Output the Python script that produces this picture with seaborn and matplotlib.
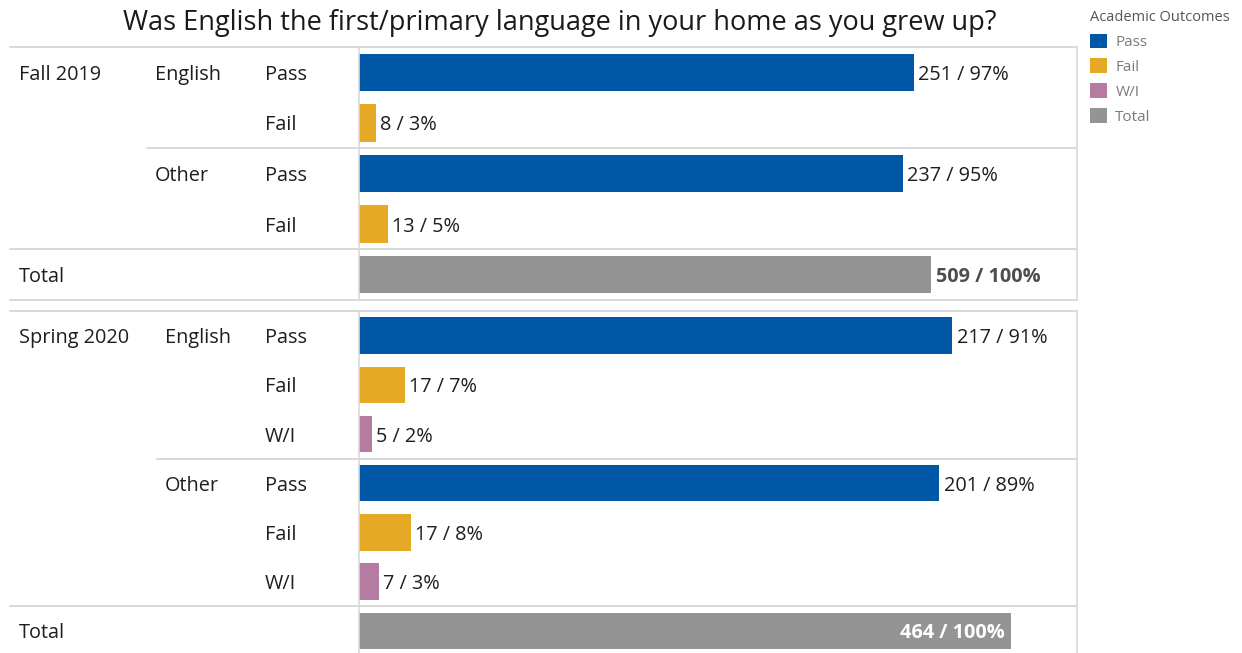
import matplotlib
matplotlib.use("Agg")
import matplotlib.pyplot as plt
import matplotlib.transforms as mtransforms
from matplotlib.patches import Patch
import pandas as pd
import seaborn as sns

# ---- data -------------------------------------------------------------
terms = ["Fall 2019", "Spring 2020"]

fall_language = ["English", "English", "Other", "Other", "Total"]
fall_outcome = ["Pass", "Fail", "Pass", "Fail", "Total"]
fall_count = [251, 8, 237, 13, 509]
fall_pct = [97, 3, 95, 5, 100]

spring_language = ["English", "English", "English", "Other", "Other", "Other", "Total"]
spring_outcome = ["Pass", "Fail", "W/I", "Pass", "Fail", "W/I", "Total"]
spring_count = [217, 17, 5, 201, 17, 7, 464]
spring_pct = [91, 7, 2, 89, 8, 3, 100]

outcomes = ["Pass", "Fail", "W/I", "Total"]
outcome_colors = ["#0057a6", "#e6a926", "#b57ba1", "#949494"]

title = "Was English the first/primary language in your home as you grew up?"
legend_title = "Academic Outcomes"

# ---- styling ----------------------------------------------------------
sns.set_theme(style="white")
plt.rcParams["font.family"] = ["Open Sans", "DejaVu Sans"]

W, H = 1242, 653
fig = plt.figure(figsize=(W / 100, H / 100), dpi=100)
palette = dict(zip(outcomes, outcome_colors))

GRID = "#d9d9d9"
TXT = "#1e1e1e"
LABEL_FS = 14.3
DROP = -2.5  # nudge text down so glyphs sit optically centred on each row

def fx(px):
    return px / W

def fy(px):
    return 1 - px / H

panels = [
    dict(term=terms[0], lang=fall_language, out=fall_outcome, cnt=fall_count,
         pct=fall_pct, top=47, bottom=300, xmax=125.5, lang_x=155),
    dict(term=terms[1], lang=spring_language, out=spring_outcome, cnt=spring_count,
         pct=spring_pct, top=311, bottom=655.5, xmax=110.1, lang_x=165),
]

ax_left, ax_right = 359, 1077

for p in panels:
    n = len(p["out"])
    df = pd.DataFrame({
        "row": [f"{l}|{o}" for l, o in zip(p["lang"], p["out"])],
        "language": p["lang"],
        "outcome": p["out"],
        "count": p["cnt"],
        "pct": p["pct"],
    })
    ax = fig.add_axes([fx(ax_left), fy(p["bottom"]), fx(ax_right - ax_left),
                       (p["bottom"] - p["top"]) / H])
    sns.barplot(data=df, y="row", x="pct", hue="outcome", palette=palette,
                dodge=False, width=0.74, orient="h", legend=False, ax=ax,
                saturation=1, edgecolor="none")
    ax.set_xlim(0, p["xmax"])
    ax.set_ylim(n - 0.5, -0.5)
    ax.set_xlabel("")
    ax.set_ylabel("")
    ax.set_xticks([])
    ax.set_yticks([])
    for s in ax.spines.values():
        s.set_visible(False)
    for side in ("left", "right"):
        ax.spines[side].set_visible(True)
        ax.spines[side].set_color(GRID)
        ax.spines[side].set_linewidth(1.2)

    blend = mtransforms.blended_transform_factory(fig.transFigure, ax.transData)
    blend_txt = blend + mtransforms.ScaledTranslation(0, DROP / 100, fig.dpi_scale_trans)

    # row separators
    n_eng = p["lang"].count("English")
    seps = [(-0.5, 10), (n_eng - 0.5, p["lang_x"] - 8), (n - 1.5, 10), (n - 0.5, 10)]
    for yv, x0 in seps:
        ax.plot([fx(x0), fx(ax_right)], [yv, yv], transform=blend, color=GRID,
                lw=1.4, clip_on=False, zorder=0)

    # header labels
    ax.text(fx(19), 0, p["term"], transform=blend_txt, va="center", ha="left",
            fontsize=LABEL_FS, color=TXT)
    seen = set()
    for i, (l, o) in enumerate(zip(p["lang"], p["out"])):
        if l == "Total":
            ax.text(fx(19), i, "Total", transform=blend_txt, va="center", ha="left",
                    fontsize=LABEL_FS, color=TXT)
            continue
        if l not in seen:
            seen.add(l)
            ax.text(fx(p["lang_x"]), i, l, transform=blend_txt, va="center",
                    ha="left", fontsize=LABEL_FS, color=TXT)
        ax.text(fx(265), i, o, transform=blend_txt, va="center", ha="left",
                fontsize=LABEL_FS, color=TXT)

    # value labels
    dy = DROP * 0.72
    for i, (o, c, v) in enumerate(zip(p["out"], p["cnt"], p["pct"])):
        lab = f"{c} / {v}%"
        if o == "Total":
            inside = v / p["xmax"] > 0.85
            if inside:
                ax.annotate(lab, (v, i), xytext=(-4.5, dy), textcoords="offset points",
                            va="center", ha="right", fontsize=LABEL_FS,
                            fontweight="bold", color="white")
            else:
                ax.annotate(lab, (v, i), xytext=(3.5, dy), textcoords="offset points",
                            va="center", ha="left", fontsize=LABEL_FS,
                            fontweight="bold", color="#4d4d4d")
        else:
            ax.annotate(lab, (v, i), xytext=(3, dy), textcoords="offset points",
                        va="center", ha="left", fontsize=LABEL_FS, color=TXT)

# title
fig.text(fx(560), fy(23), title, ha="center", va="center", fontsize=19.5, color="#1a1a1a")

# legend
handles = [Patch(facecolor=c, edgecolor="none", label=o)
           for o, c in zip(outcomes, outcome_colors)]
leg = fig.legend(handles=handles, title=legend_title, loc="upper left",
                 bbox_to_anchor=(fx(1084), fy(4)), frameon=False,
                 fontsize=11, title_fontsize=10.5, handlelength=1.1,
                 handleheight=1.1, handletextpad=0.55, labelspacing=0.55,
                 alignment="left", borderaxespad=0)
leg.get_title().set_color("#555555")
for t in leg.get_texts():
    t.set_color("#7a7a7a")

fig.savefig("out.png", dpi=100)
